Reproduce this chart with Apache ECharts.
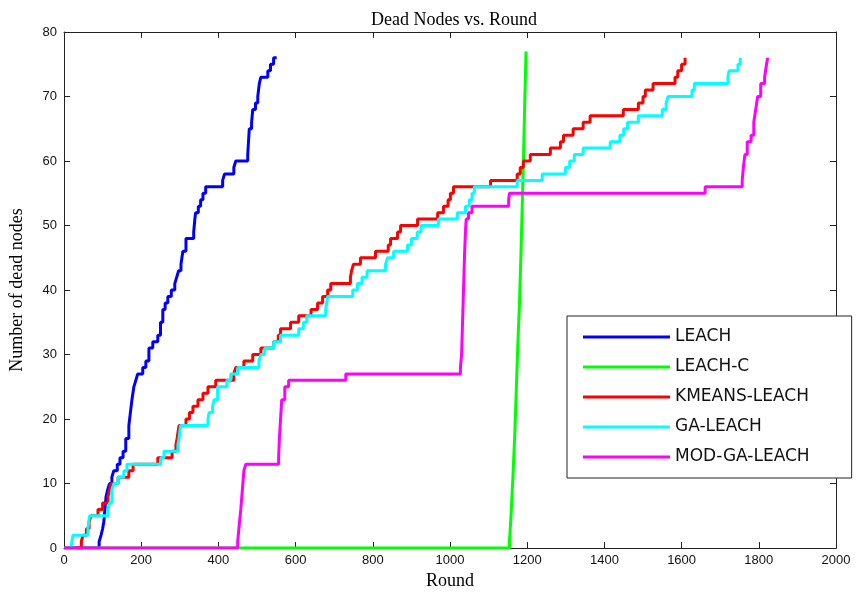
<!DOCTYPE html>
<html>
<head>
<meta charset="utf-8">
<script src="https://cdn.jsdelivr.net/npm/echarts@6/dist/echarts.min.js"></script>
<style>
  html, body { margin: 0; padding: 0; background: #fff; }
  #main { width: 858px; height: 595px; }
</style>
</head>
<body>
<div id="main"></div>
<script>
// [round, dead nodes] where the count steps up to the given value
var leach = [[0,0],[91,1],[96,2],[100,3],[103,4],[106,6],[109,8],[113,9],[118,10],[124,11],[129,12],[138,13],[145,14],[153,15],[160,17],[168,19],[172,21],[176,23],[181,25],[186,26],[191,27],[204,28],[212,29],[220,31],[230,32],[243,33],[250,35],[256,37],[262,38],[269,39],[278,40],[287,41],[292,42],[297,43],[303,44],[308,46],[316,48],[336,49],[339,51],[341,52],[348,53],[354,54],[360,55],[367,56],[411,57],[416,58],[440,59],[445,60],[476,61],[478,63],[480,65],[486,66],[489,68],[496,69],[502,70],[506,72],[510,73],[528,74],[535,75],[543,76],[551,76]];
var leachC = [[0,0],[1154,1],[1158,5],[1163,11],[1168,18],[1172,25],[1176,32],[1180,38],[1184,46],[1188,55],[1191,62],[1194,70],[1197,77]];
var kmeansLeach = [[30,0],[45,1],[49,2],[58,3],[65,4],[70,5],[88,6],[100,7],[114,8],[118,9],[122,10],[140,11],[168,12],[179,13],[243,14],[280,15],[290,16],[293,17],[298,19],[316,20],[325,21],[334,22],[347,23],[360,24],[373,25],[393,26],[440,27],[445,28],[466,29],[489,30],[510,31],[543,32],[555,33],[561,34],[587,35],[608,36],[640,37],[657,38],[670,39],[683,40],[691,41],[742,42],[745,43],[750,44],[768,45],[807,46],[840,47],[846,48],[864,49],[872,50],[916,51],[968,52],[983,53],[995,54],[1001,55],[1009,56],[1105,57],[1174,58],[1182,59],[1190,60],[1208,61],[1260,62],[1286,63],[1294,64],[1319,65],[1345,66],[1363,67],[1449,68],[1488,69],[1500,70],[1506,71],[1526,72],[1583,73],[1590,74],[1600,75],[1609,76]];
var gaLeach = [[18,0],[23,2],[62,3],[66,5],[114,6],[118,7],[124,9],[129,10],[140,11],[155,12],[163,13],[251,14],[259,15],[295,16],[298,17],[302,19],[373,20],[376,21],[385,22],[389,23],[398,25],[422,26],[432,27],[450,28],[505,29],[510,30],[520,31],[543,32],[561,33],[608,34],[620,35],[629,36],[678,37],[683,39],[748,40],[760,41],[772,42],[785,43],[833,44],[838,45],[854,46],[890,47],[900,48],[915,49],[925,50],[970,51],[1019,52],[1040,53],[1050,54],[1057,55],[1063,56],[1174,57],[1239,58],[1299,59],[1310,60],[1322,61],[1345,62],[1415,63],[1440,64],[1450,65],[1460,66],[1488,67],[1550,68],[1560,69],[1565,70],[1627,71],[1633,72],[1720,73],[1723,74],[1746,75],[1752,76]];
var modGaLeach = [[0,0],[450,1],[453,3],[458,6],[462,9],[466,12],[471,13],[556,14],[558,17],[561,20],[564,23],[572,25],[582,26],[730,27],[1027,28],[1030,30],[1032,34],[1034,38],[1036,42],[1038,46],[1040,49],[1042,51],[1048,52],[1057,53],[1152,54],[1154,55],[1661,56],[1757,57],[1760,59],[1764,61],[1770,63],[1780,64],[1787,66],[1792,68],[1797,70],[1805,72],[1815,73],[1820,75],[1823,76]];

var names = ['LEACH', 'LEACH-C', 'KMEANS-LEACH', 'GA-LEACH', 'MOD-GA-LEACH'];
var colors = ['#0000ff', '#00ff00', '#ff0000', '#00ffff', '#ff00ff'];
var seriesData = [leach, leachC, kmeansLeach, gaLeach, modGaLeach];

var serif = '"Liberation Serif", "DejaVu Serif", serif';
var sans = '"Liberation Sans", Arial, sans-serif';

function boxAxis(opts) {
    return Object.assign({
        type: 'value',
        axisLine: { show: true, onZero: false, lineStyle: { color: '#222', width: 1 } },
        axisTick: { show: true, inside: true, length: 6, lineStyle: { color: '#222' } },
        splitLine: { show: false }
    }, opts);
}

var myChart = echarts.init(document.getElementById('main'));
myChart.setOption({
    animation: false,
    title: {
        text: 'Dead Nodes vs. Round',
        left: 449,
        top: 6,
        textAlign: 'center',
        textStyle: { fontFamily: serif, fontWeight: 'normal', fontSize: 18, color: '#000' }
    },
    grid: { left: 63, right: 22, top: 32, bottom: 46 },
    legend: {
        data: names,
        orient: 'vertical',
        left: 567,
        top: 316,
        padding: [12, 42, 12, 16],
        itemGap: 12,
        itemWidth: 87,
        itemHeight: 3,
        icon: 'rect',
        borderColor: '#222',
        borderWidth: 1,
        backgroundColor: '#fff',
        textStyle: { fontFamily: '"DejaVu Sans", sans-serif', fontSize: 17, color: '#111', lineHeight: 18 }
    },
    xAxis: [
        boxAxis({
            min: 0, max: 2000, interval: 200,
            name: 'Round', nameLocation: 'middle', nameGap: 22,
            nameTextStyle: { fontFamily: serif, fontSize: 18, color: '#000' },
            axisLabel: { fontFamily: sans, fontSize: 13, color: '#111', margin: 6,
                formatter: function (v) { return String(v); } }
        }),
        boxAxis({
            min: 0, max: 2000, interval: 200, position: 'top',
            axisLabel: { show: false }
        })
    ],
    yAxis: [
        boxAxis({
            min: 0, max: 80, interval: 10,
            name: 'Number of dead nodes', nameLocation: 'middle', nameGap: 38,
            nameTextStyle: { fontFamily: serif, fontSize: 18, color: '#000' },
            axisLabel: { fontFamily: sans, fontSize: 13, color: '#111', margin: 7 }
        }),
        boxAxis({
            min: 0, max: 80, interval: 10, position: 'right',
            axisLabel: { show: false }
        })
    ],
    series: names.map(function (n, i) {
        return {
            name: n,
            type: 'line',
            step: 'end',
            showSymbol: false,
            data: seriesData[i],
            lineStyle: { color: colors[i], width: 3 },
            itemStyle: { color: colors[i] }
        };
    })
});
</script>
</body>
</html>
